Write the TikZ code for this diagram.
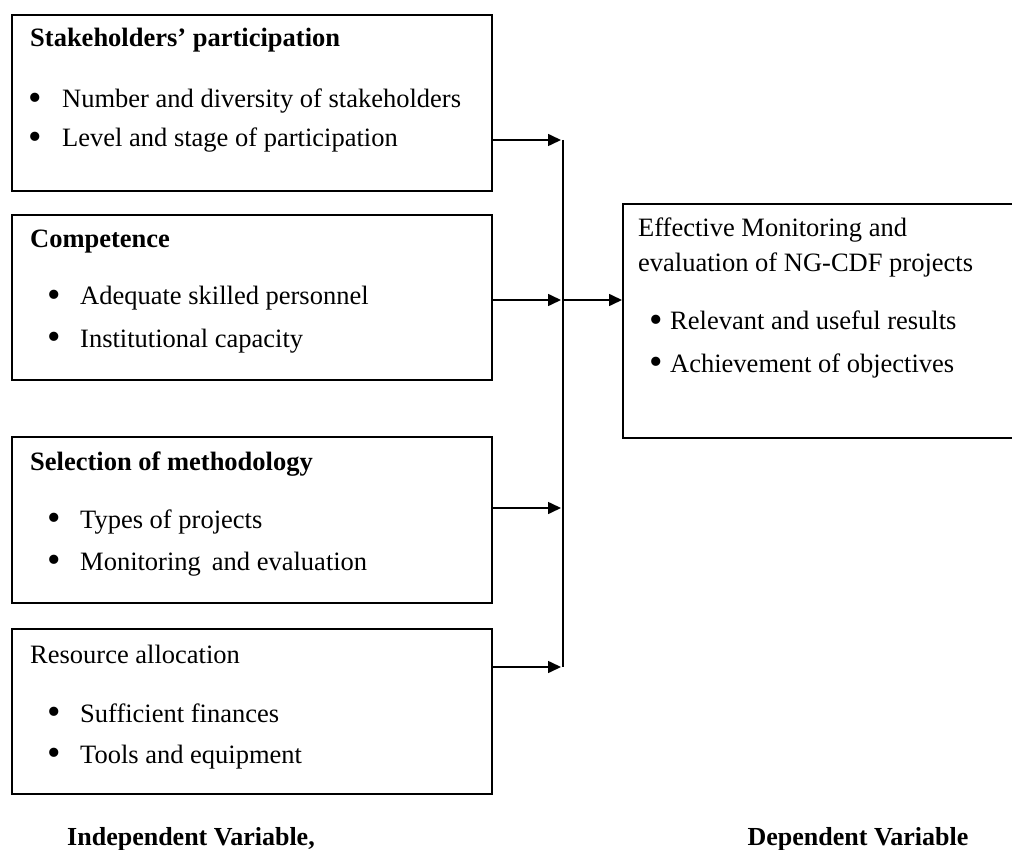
\documentclass[tikz,border=0pt]{standalone}
\usepackage{fontspec}
\setmainfont{Liberation Serif}
\usetikzlibrary{positioning, arrows.meta}

\newcommand{\bitem}[2][33pt]{\makebox[#1][l]{\raisebox{-2.5pt}{\scalebox{1.45}{\textbullet}}}#2}

\begin{document}
\begin{tikzpicture}[
    x=1pt, y=-1pt,
    every node/.style={font=\fontsize{26.5}{30}\selectfont, inner sep=0pt},
    box/.style={rectangle, draw=black, line width=1.6pt, minimum width=480pt, minimum height=#1, anchor=north west},
    head/.style={anchor=base west, font=\bfseries\fontsize{26.5}{30}\selectfont},
    item/.style={anchor=base west},
    label/.style={anchor=base, font=\bfseries\fontsize{26}{30}\selectfont},
    line/.style={draw=black, line width=1.6pt},
    arrow/.style={-{Triangle[length=13pt, width=12pt]}, line width=1.6pt, shorten >=2pt},
]
\useasboundingbox (0,0) rectangle (1012,850);

% Independent variable boxes
\node[box=176pt] (stake) at (11,14) {};
\node[box=165pt] (comp) at (11,214) {};
\node[box=166pt] (method) at (11,436) {};
\node[box=165pt] (resource) at (11,628) {};

\node[head] (stakeT) at (30,47) {Stakeholders’ participation};
\node[item] (stakeA) at (28,108) {\bitem[34pt]{Number and diversity of stakeholders}};
\node[item] (stakeB) at (28,147) {\bitem[34pt]{Level and stage of participation}};

\node[head] (compT) at (30,248) {Competence};
\node[item] (compA) at (47,305) {\bitem{Adequate skilled personnel}};
\node[item] (compB) at (47,347) {\bitem{Institutional capacity}};

\node[head] (methodT) at (30,470) {Selection of methodology};
\node[item] (methodA) at (47,528) {\bitem{Types of projects}};
\node[item] (methodB) at (47,570) {\bitem{Monitoring\, and evaluation}};

\node[item] (resourceT) at (30,663) {Resource allocation};
\node[item] (resourceA) at (47,722) {\bitem{Sufficient finances}};
\node[item] (resourceB) at (47,763) {\bitem{Tools and equipment}};

% Dependent variable box
\node[box=234pt, minimum width=392pt] (outcome) at (622,203) {};
\node[item] (outcomeT) at (638,237) {Effective Monitoring and};
\node[item] (outcomeU) at (638,272) {evaluation of NG-CDF projects};
\node[item] (outcomeA) at (649,330) {\bitem[21pt]{Relevant and useful results}};
\node[item] (outcomeB) at (649,372) {\bitem[21pt]{Achievement of objectives}};

% Bus line and arrows
\coordinate (bus1) at (563,140);
\coordinate (bus2) at (563,300);
\coordinate (bus3) at (563,508);
\coordinate (bus4) at (563,667);
\draw[line] (bus1) -- (bus4);

\draw[arrow] (stake.east |- bus1) -- (bus1);
\draw[arrow] (comp.east |- bus2) -- (bus2);
\draw[arrow] (method.east |- bus3) -- (bus3);
\draw[arrow] (resource.east |- bus4) -- (bus4);
\draw[arrow, shorten >=0pt] (bus2) -- (outcome.west |- bus2);

% Variable labels
\node[label] (indep) at (191,845) {Independent Variable,};
\node[label] (dep) at (858,845) {Dependent Variable};

\end{tikzpicture}
\end{document}
